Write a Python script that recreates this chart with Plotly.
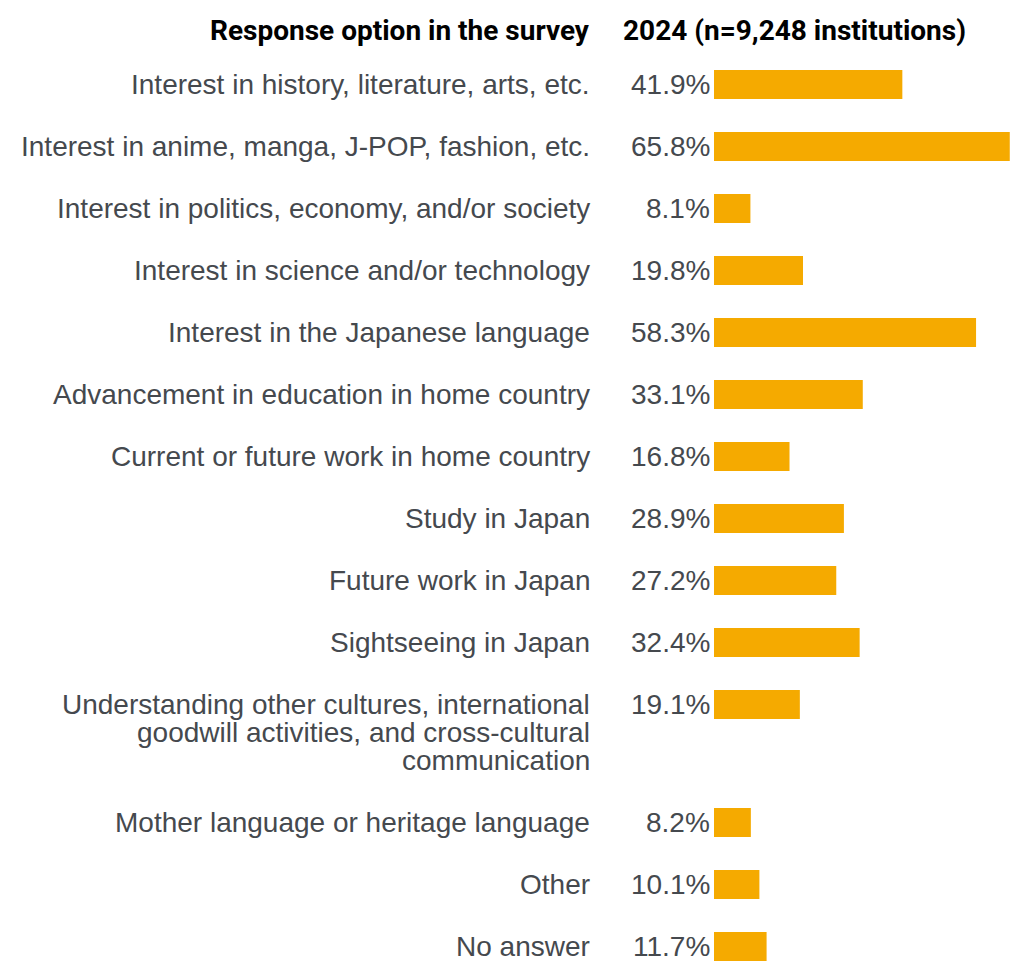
import plotly.graph_objects as go

categories = [
    "Interest in history, literature, arts, etc.",
    "Interest in anime, manga, J-POP, fashion, etc.",
    "Interest in politics, economy, and/or society",
    "Interest in science and/or technology",
    "Interest in the Japanese language",
    "Advancement in education in home country",
    "Current or future work in home country",
    "Study in Japan",
    "Future work in Japan",
    "Sightseeing in Japan",
    "Understanding other cultures, international<br>goodwill activities, and cross-cultural<br>communication",
    "Mother language or heritage language",
    "Other",
    "No answer",
]
values = [41.9, 65.8, 8.1, 19.8, 58.3, 33.1, 16.8, 28.9, 27.2, 32.4, 19.1, 8.2, 10.1, 11.7]
header_left = "Response option in the survey"
header_right = "2024 (n=9,248 institutions)"

OFF = 8  # page body margin
W, H = 1025 - OFF, 962 - OFF
FONT = "Liberation Sans, Arial, sans-serif"
HFONT = "Roboto"
FS = 28
HFS = 28
LINE = 28
ROW = 62
first_center = 84.5 - OFF
bar_left_px = 714 - OFF
px_per_pct = 4.495
label_right_px = 592 - OFF
header_right_edge_px = 592 - OFF
header_y = 30 - OFF
header_right_px = 621 - OFF
GREY = "#45494e"

# row positions derived from the number of lines in each label
centers = []
y = first_center
for c in categories:
    centers.append(y)
    y += ROW + LINE * (c.count("<br>"))

fig = go.Figure()
fig.add_trace(go.Bar(
    x=values, y=centers, orientation="h", width=29,
    marker=dict(color="#F5AA00", line=dict(width=0)),
    hoverinfo="skip",
))

annotations = []
for c, v, yc in zip(categories, values, centers):
    for k, line in enumerate(c.split("<br>")):
        annotations.append(dict(
            x=label_right_px / W, xref="paper", y=yc + k * LINE, yref="y",
            text=line, showarrow=False, xanchor="right", yanchor="middle",
            font=dict(family=FONT, size=FS, color=GREY),
        ))
    annotations.append(dict(
        x=0, xref="x", y=yc, yref="y", text=f"{v:.1f}%", showarrow=False,
        xanchor="right", yanchor="middle", xshift=-2,
        font=dict(family=FONT, size=FS, color=GREY),
    ))

annotations.append(dict(
    x=header_right_edge_px / W, xref="paper", y=header_y, yref="y", text=f"<b>{header_left}</b>",
    showarrow=False, xanchor="right", yanchor="middle",
    font=dict(family=HFONT, size=HFS, color="#000000"),
))
annotations.append(dict(
    x=header_right_px / W, xref="paper", y=header_y, yref="y", text=f"<b>{header_right}</b>",
    showarrow=False, xanchor="left", yanchor="middle",
    font=dict(family=HFONT, size=HFS, color="#000000"),
))

fig.update_layout(
    width=W, height=H,
    margin=dict(l=0, r=0, t=0, b=0),
    paper_bgcolor="white", plot_bgcolor="white",
    showlegend=False,
    annotations=annotations,
    xaxis=dict(domain=[bar_left_px / W, 1], range=[0, (W - bar_left_px) / px_per_pct],
               visible=False, fixedrange=True),
    yaxis=dict(range=[H, 0], visible=False, fixedrange=True),
)

fig.write_html("out.html")
